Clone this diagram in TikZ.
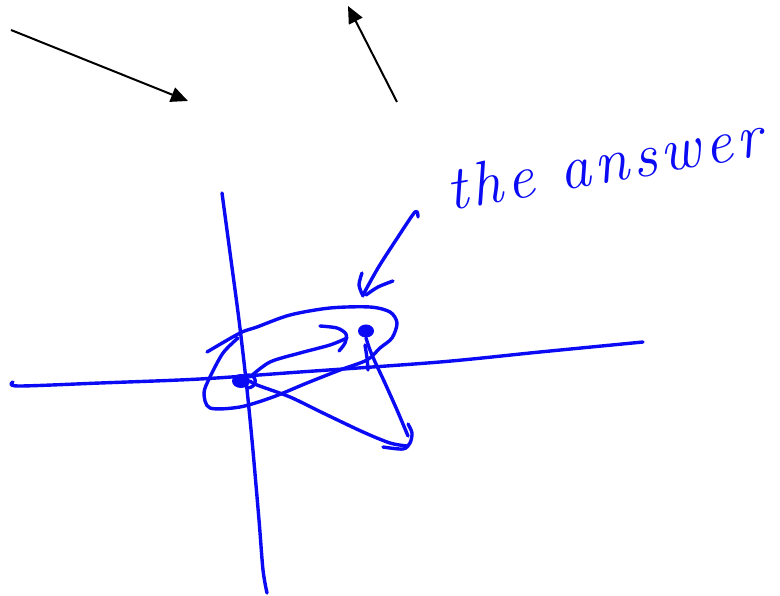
\documentclass[tikz,border=0pt]{standalone}
\usepackage{fontspec}
\usetikzlibrary{arrows.meta}
\definecolor{penblue}{RGB}{10,10,245}
\newfontfamily\handfont[LetterSpace=7]{Latin Modern Roman}
\tikzset{
  ink/.style={draw=penblue, line width=3.4pt, line cap=round, line join=round},
  blackarrow/.style={draw=black, line width=2pt, -{Triangle[length=17pt,width=15pt]}},
  label/.style={text=penblue, font=\handfont\fontsize{62}{62}\selectfont\itshape, inner sep=0pt}
}
\begin{document}
\begin{tikzpicture}[x=1pt,y=-1pt]
\useasboundingbox (0,0) rectangle (780,596);

% black arrows
\coordinate (a1s) at (11,30);
\coordinate (a1e) at (188,101);
\coordinate (a2s) at (397,102);
\coordinate (a2e) at (348,6);
\draw[blackarrow] (a1s) -- (a1e);
\draw[blackarrow] (a2s) -- (a2e);

% label
\node[label, rotate=10] (answer) at (604,162) {the answer};

% axes
\draw[ink] plot[smooth] coordinates {(222,193) (231,260) (239,320) (246,380) (252,440) (259,520) (263,570) (267,593)};
\draw[ink] plot[smooth] coordinates {(13,382) (18,386) (100,383) (200,379) (300,372) (440,362) (540,352) (643,342)};

% points
\coordinate (O) at (241,381);
\coordinate (P) at (366,331);
\fill[penblue] (O) ellipse (9pt and 7pt);
\draw[ink] (247,375) .. controls (258,374) and (258,388) .. (247,388);
\fill[penblue] (P) ellipse (8pt and 6.5pt);

% loop
\draw[ink] plot[smooth] coordinates {(207,352) (240,333) (257,327) (290,315) (330,308) (370,307) (390,312) (397,323) (392,338) (380,348) (367,360) (340,370) (307,383) (273,397) (240,407) (210,408) (204,393) (210,377) (223,353) (238,338)};

% curved arrow towards P
\draw[ink] plot[smooth] coordinates {(250,377) (270,362) (300,353) (330,345) (347,338)};
\draw[ink] plot[smooth] coordinates {(320,326) (337,328) (346,334) (345,343) (339,351)};

% lower vectors
\draw[ink] plot[smooth] coordinates {(250,381) (257,385) (290,397) (323,413) (363,432) (390,443) (407,446)};
\draw[ink] plot[smooth] coordinates {(366,338) (370,350) (376,364) (384,381) (397,410) (408,436)};
\draw[ink] plot[smooth] coordinates {(365,345) (367,358) (368,370)};
\draw[ink] plot[smooth] coordinates {(383,447) (403,449) (410,443) (412,433) (408,424)};

% answer arrow
\draw[ink] plot[smooth] coordinates {(418,217) (415,212) (396,240) (378,268) (363,295)};
\draw[ink] plot[smooth] coordinates {(362,273) (359,285) (363,296)};
\draw[ink] plot[smooth] coordinates {(393,281) (378,287) (366,295)};
\end{tikzpicture}
\end{document}
